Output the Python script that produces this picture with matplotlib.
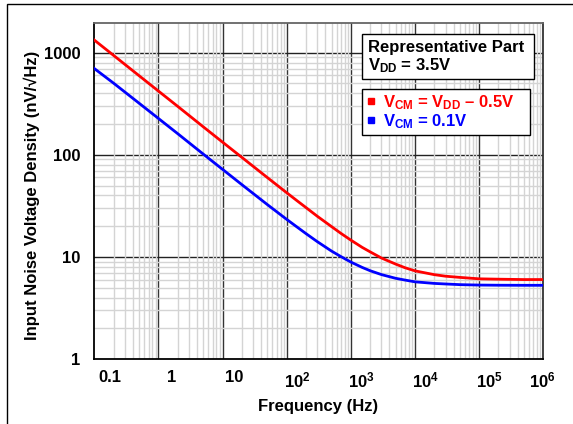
import matplotlib
matplotlib.use("Agg")
import matplotlib.pyplot as plt
from matplotlib.lines import Line2D
from matplotlib.patches import Rectangle
from matplotlib.ticker import LogLocator, NullFormatter, FixedLocator

plt.rcParams['font.family'] = ['Liberation Sans', 'DejaVu Sans']
plt.rcParams['font.weight'] = 'bold'
plt.rcParams['mathtext.fontset'] = 'custom'
plt.rcParams['mathtext.rm'] = 'Liberation Sans:bold'
plt.rcParams['mathtext.it'] = 'Liberation Sans:bold'
plt.rcParams['mathtext.bf'] = 'Liberation Sans:bold'
plt.rcParams['mathtext.sf'] = 'Liberation Sans:bold'

# ---- data ----
freq = [0.1, 0.2, 0.5, 1, 2, 5, 10, 20, 50, 100, 150, 200, 300, 500, 700,
        1e3, 1.5e3, 2e3, 3e3, 5e3, 7e3, 1e4, 2e4, 3e4, 5e4, 1e5, 2e5, 5e5, 1e6]
noise_vcm_high = [1330, 941, 595, 421, 298, 188, 133, 94.3, 59.8, 42.5, 34.9,
                  30.4, 25.0, 19.8, 17.0, 14.6, 12.4, 11.2, 9.75, 8.5, 7.83,
                  7.3, 6.7, 6.47, 6.3, 6.1, 6.05, 6.0, 6.0]
noise_vcm_low = [700, 503, 320, 227, 161, 101.6, 72, 51, 32.5, 23.3, 19.3,
                 16.9, 14.1, 11.4, 10.07, 8.9, 7.89, 7.32, 6.71, 6.17, 5.93,
                 5.7, 5.5, 5.43, 5.35, 5.3, 5.28, 5.27, 5.27]
series_labels = [r'$V_{CM}$ = $V_{DD}$ – 0.5V', r'$V_{CM}$ = 0.1V']
series_colors = ['#ff0000', '#0000ff']
xtick_labels = ['0.1', '1', '10', r'$10^{2}$', r'$10^{3}$', r'$10^{4}$',
                r'$10^{5}$', r'$10^{6}$']
ytick_values = [1, 10, 100, 1000]
ytick_labels = ['1', '10', '100', '1000']
decade_x = [1, 10, 100, 1e3, 1e4, 1e5]
decade_y = [10, 100, 1000]

# label positions (reference places x labels slightly right of gridlines)
xtick_pos = [0.176, 1.63, 15.1, 144.5, 1439, 14320, 142600, 955000]

W, H = 573, 424
FS = 12
fig = plt.figure(figsize=(W / 100, H / 100), dpi=100)
ax = fig.add_axes([94.3 / W, 1 - 359 / H, 449 / W, 336.3 / H])

def ax_xy(px, py):
    return ((px - 94.3) / 449, 1 - (py - 22.7) / 336.3)

ax.set_xscale('log')
ax.set_yscale('log')
ax.set_xlim(0.1, 1e6)
ax.set_ylim(1, 1968)

# minor grid
ax.xaxis.set_minor_locator(LogLocator(base=10, subs=range(2, 10), numticks=20))
ax.yaxis.set_minor_locator(LogLocator(base=10, subs=range(2, 10), numticks=20))
ax.xaxis.set_minor_formatter(NullFormatter())
ax.yaxis.set_minor_formatter(NullFormatter())
ax.grid(which='minor', color='#d4d4d4', lw=1.0)
ax.tick_params(which='minor', length=0)

# major grid lines
for xv in decade_x:
    ax.axvline(xv, color='#333333', lw=1.0, zorder=1.5)
for yv in decade_y:
    ax.axhline(yv, color='#222222', lw=1.0, zorder=1.5)

ax.xaxis.set_major_locator(FixedLocator(xtick_pos))
ax.set_xticklabels(xtick_labels)
ax.set_yticks(ytick_values)
ax.set_yticklabels(ytick_labels)
ax.tick_params(which='major', length=0, labelsize=FS)
ax.tick_params(axis='x', pad=8)
ax.tick_params(axis='y', pad=10)
for lab in ax.get_xticklabels() + ax.get_yticklabels():
    lab.set_fontweight('bold')

for s in ax.spines.values():
    s.set_linewidth(1.3)
    s.set_color('black')
ax.spines['top'].set_color('#666666')
ax.spines['right'].set_color('#333333')

ax.plot(freq, noise_vcm_high, color=series_colors[0], lw=2.0, zorder=3)
ax.plot(freq, noise_vcm_low, color=series_colors[1], lw=2.0, zorder=3)

# annotation box
x0, y0 = ax_xy(361.7, 79)
x1, y1 = ax_xy(534.3, 34.3)
ax.add_patch(Rectangle((x0, y0), x1 - x0, y1 - y0, transform=ax.transAxes,
                       fc='white', ec='black', lw=1.0, zorder=5))
tx, ty = ax_xy(368, 52.3)
ax.text(tx, ty, 'Representative Part', transform=ax.transAxes, ha='left',
        va='baseline', fontsize=FS, fontweight='bold', zorder=6)
tx, ty = ax_xy(368, 70)
ax.text(tx, ty, r'$V_{DD}$ = 3.5V', transform=ax.transAxes, ha='left',
        va='baseline', fontsize=FS, fontweight='bold', zorder=6)

handles = [Line2D([], [], marker='s', ls='none', color=c, markersize=5)
           for c in series_colors]
lx0, ly0 = ax_xy(361.7, 135.7)
lx1, ly1 = ax_xy(530, 89)
leg = ax.legend(handles, series_labels, loc='upper left', mode='expand',
                bbox_to_anchor=(lx0, ly0, lx1 - lx0, ly1 - ly0), borderaxespad=0,
                frameon=True, fancybox=False, framealpha=1,
                edgecolor='black', handlelength=0.6, handletextpad=0.4,
                borderpad=0.25, labelspacing=0.0,
                prop={'weight': 'bold', 'size': FS})
leg.get_frame().set_linewidth(1.0)
leg.set_zorder(5)
for t, c in zip(leg.get_texts(), series_colors):
    t.set_color(c)

fig.text(318 / W, 1 - 407 / H, 'Frequency (Hz)', ha='center', va='center',
         fontsize=FS, fontweight='bold')
fig.text(32 / W, 1 - 195 / H, 'Input Noise Voltage Density (nV/√Hz)',
         ha='center', va='center', rotation=90, fontsize=FS, fontweight='bold')

fig.add_artist(Rectangle((6.5 / W, -0.1), 2, 1 - 4.5 / H + 0.1,
                         transform=fig.transFigure, fill=False,
                         ec='black', lw=1.0))

fig.savefig('out.png', dpi=100)
